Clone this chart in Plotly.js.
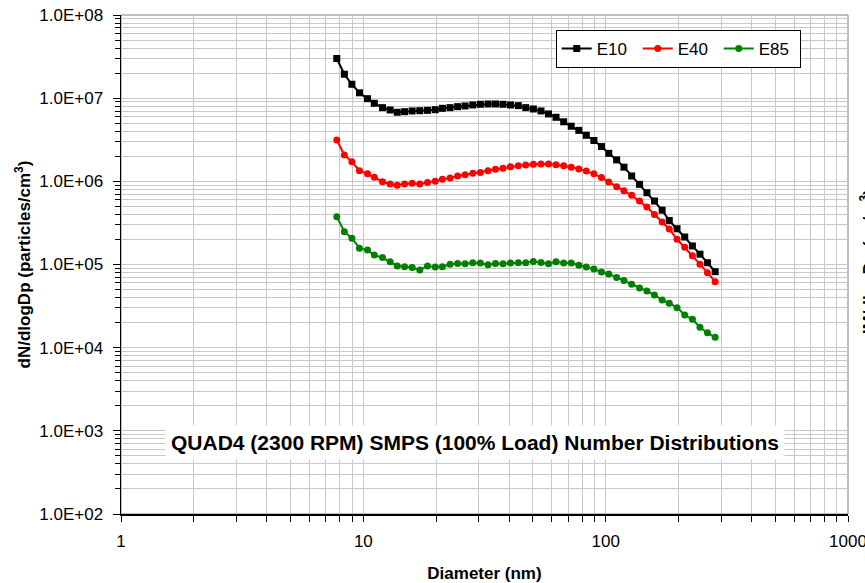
<!DOCTYPE html>
<html>
<head>
<meta charset="utf-8">
<script src="https://cdn.plot.ly/plotly-3.0.1.min.js"></script>
<style>html,body{margin:0;padding:0;background:#fff;}#chart{width:865px;height:583px;}</style>
</head>
<body>
<div id="chart"></div>
<script>
// Particle diameters (nm)
const diameters = [7.77, 8.35, 8.97, 9.64, 10.4, 11.1, 12.0, 12.9, 13.8, 14.8,
  15.9, 17.1, 18.4, 19.8, 21.2, 22.8, 24.5, 26.3, 28.3, 30.4,
  32.7, 35.1, 37.7, 40.5, 43.6, 46.8, 50.3, 54.1, 58.1, 62.4,
  67.1, 72.1, 77.5, 83.2, 89.4, 96.1, 103, 111, 119, 128,
  138, 148, 159, 171, 183, 197, 212, 228, 245, 263, 283];

const e10 = [3.0e7, 1.94e7, 1.47e7, 1.16e7, 9.86e6, 8.68e6, 7.69e6, 7.21e6, 6.77e6, 6.88e6,
  7.02e6, 7.07e6, 7.14e6, 7.26e6, 7.55e6, 7.69e6, 7.91e6, 8.06e6, 8.28e6, 8.44e6,
  8.51e6, 8.51e6, 8.44e6, 8.28e6, 8.13e6, 7.69e6, 7.41e6, 7.02e6, 6.46e6, 5.89e6,
  5.2e6, 4.6e6, 4.1e6, 3.58e6, 3.1e6, 2.62e6, 2.17e6, 1.81e6, 1.48e6, 1.16e6,
  9.2e5, 7.3e5, 5.8e5, 4.5e5, 3.38e5, 2.69e5, 2.14e5, 1.67e5, 1.33e5, 1.05e5, 8.2e4];

const e40 = [3.14e6, 2.07e6, 1.72e6, 1.34e6, 1.23e6, 1.12e6, 9.9e5, 9.3e5, 9.0e5, 9.3e5,
  9.5e5, 9.3e5, 9.7e5, 1.0e6, 1.06e6, 1.10e6, 1.16e6, 1.20e6, 1.25e6, 1.28e6,
  1.34e6, 1.40e6, 1.44e6, 1.50e6, 1.54e6, 1.57e6, 1.60e6, 1.62e6, 1.62e6, 1.58e6,
  1.54e6, 1.48e6, 1.41e6, 1.33e6, 1.23e6, 1.11e6, 9.8e5, 8.6e5, 7.7e5, 6.8e5,
  5.8e5, 4.9e5, 4.0e5, 3.24e5, 2.67e5, 2.01e5, 1.61e5, 1.27e5, 1.01e5, 7.98e4, 6.2e4];

const e85 = [3.76e5, 2.48e5, 2.07e5, 1.57e5, 1.49e5, 1.30e5, 1.21e5, 1.08e5, 9.6e4, 9.4e4,
  9.2e4, 8.6e4, 9.6e4, 9.3e4, 9.4e4, 1.01e5, 1.03e5, 1.02e5, 1.05e5, 1.04e5,
  9.9e4, 1.03e5, 1.02e5, 1.04e5, 1.05e5, 1.05e5, 1.09e5, 1.06e5, 1.02e5, 1.08e5,
  1.04e5, 1.04e5, 9.8e4, 9.3e4, 8.8e4, 8.1e4, 7.7e4, 7.0e4, 6.4e4, 5.8e4,
  5.2e4, 4.8e4, 4.3e4, 3.74e4, 3.42e4, 3.03e4, 2.47e4, 2.19e4, 1.76e4, 1.51e4, 1.33e4];

const seriesNames = ['E10', 'E40', 'E85'];
const xTickVals = [1, 10, 100, 1000];
const xTickText = ['1', '10', '100', '1000'];
const yTickVals = [1e2, 1e3, 1e4, 1e5, 1e6, 1e7, 1e8];
const yTickText = ['1.0E+02', '1.0E+03', '1.0E+04', '1.0E+05', '1.0E+06', '1.0E+07', '1.0E+08'];
const chartTitle = 'QUAD4 (2300 RPM) SMPS (100% Load) Number Distributions';
const xTitle = 'Diameter (nm)';
const yTitle = 'dN/dlogDp (particles/cm<sup>3</sup>)';
const y2Title = 'dM/dlogDp (µg/m<sup>3</sup>)';

const FONT = 'Liberation Sans, Arial, sans-serif';

const traces = [
  {x: diameters, y: e10, name: seriesNames[0], mode: 'lines+markers',
   line: {color: '#000000', width: 2}, marker: {symbol: 'square', size: 7, color: '#000000'}},
  {x: diameters, y: e40, name: seriesNames[1], mode: 'lines+markers',
   line: {color: '#ff0000', width: 2}, marker: {symbol: 'circle', size: 7, color: '#ff0000'}},
  {x: diameters, y: e85, name: seriesNames[2], mode: 'lines+markers',
   line: {color: '#008000', width: 2}, marker: {symbol: 'circle', size: 7, color: '#008000'}}
];

const gridCol = '#c8c8c8';

const layout = {
  width: 865, height: 583,
  margin: {l: 121, r: 17, t: 15, b: 69},
  paper_bgcolor: '#ffffff', plot_bgcolor: '#ffffff',
  font: {family: FONT, size: 17, color: '#000000'},
  showlegend: true,
  legend: {orientation: 'h', x: 0.598, y: 0.970, xanchor: 'left', yanchor: 'top',
    bgcolor: '#ffffff', bordercolor: '#000000', borderwidth: 1,
    font: {family: FONT, size: 17, color: '#000'}, entrywidth: 36, itemwidth: 30, tracegroupgap: 0},
  xaxis: {
    type: 'log', range: [0, 3], tickvals: xTickVals, ticktext: xTickText,
    showline: true, linecolor: '#000000', linewidth: 1.5,
    ticks: 'outside', ticklen: 6, tickcolor: '#000000', tickwidth: 1,
    showgrid: true, gridcolor: gridCol, gridwidth: 1, zeroline: false,
    ticklabelstandoff: 5, ticklabeloverflow: 'allow',
    minor: {dtick: 'D1', showgrid: true, gridcolor: gridCol, gridwidth: 1,
      ticks: 'outside', ticklen: 6, tickcolor: '#000000'},
    tickfont: {family: FONT, size: 17, color: '#000'},
    title: {text: xTitle, font: {family: FONT, size: 17, color: '#000', weight: 'bold'}, standoff: 21},
    automargin: false
  },
  yaxis: {
    type: 'log', range: [2, 8], tickvals: yTickVals, ticktext: yTickText,
    showline: true, linecolor: '#000000', linewidth: 1.5,
    ticks: 'outside', ticklen: 7, tickcolor: '#000000', tickwidth: 1,
    showgrid: true, gridcolor: gridCol, gridwidth: 1, zeroline: false,
    ticklabelstandoff: 6, ticklabeloverflow: 'allow',
    minor: {dtick: 'D1', showgrid: true, gridcolor: gridCol, gridwidth: 1,
      ticks: 'outside', ticklen: 5, tickcolor: '#000000'},
    tickfont: {family: FONT, size: 17, color: '#000'},
    title: {text: yTitle, font: {family: FONT, size: 17, color: '#000', weight: 'bold'}, standoff: 4},
    automargin: false
  },
  shapes: [
    {type: 'rect', xref: 'paper', yref: 'paper', x0: 0, x1: 1, y0: 0, y1: 1,
     line: {color: '#808080', width: 1}, layer: 'below'},
    {type: 'line', xref: 'paper', yref: 'paper', x0: 1.029, x1: 1.029, y0: 0, y1: 1,
     line: {color: 'rgba(0,0,0,0)', width: 0},
     label: {text: '<b>' + y2Title + '</b>', textangle: -90, textposition: 'middle',
       xanchor: 'center', yanchor: 'middle', padding: 0,
       font: {family: FONT, size: 17, color: '#000'}}}
  ],
  annotations: [
    {text: '<b>' + chartTitle + '</b>', xref: 'paper', yref: 'paper', x: 0.4876, y: 0.1423,
     xanchor: 'center', yanchor: 'middle', showarrow: false, bgcolor: '#ffffff', borderpad: 5,
     font: {family: FONT, size: 21, color: '#000'}}
  ]
};

Plotly.newPlot('chart', traces, layout, {displayModeBar: false, staticPlot: true});
</script>
</body>
</html>
